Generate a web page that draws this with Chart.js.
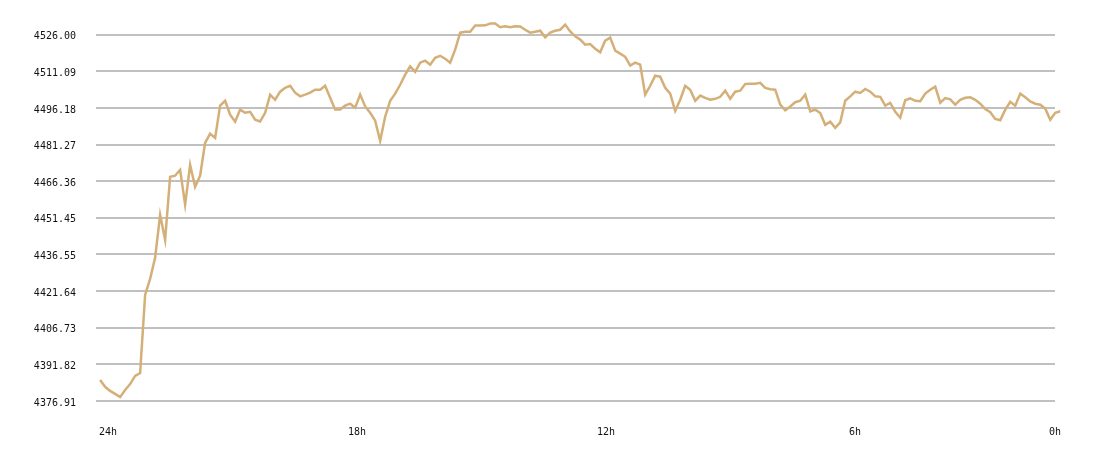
<!DOCTYPE html>
<html>
<head>
<meta charset="utf-8">
<script src="https://cdn.jsdelivr.net/npm/chart.js@4"></script>
<style>
  html, body { margin: 0; padding: 0; background: #fff; }
  #wrap { width: 1100px; height: 458px; }
</style>
</head>
<body>
<div id="wrap"><canvas id="priceChart"></canvas></div>
<script>
// price samples, oldest first, one every ~7.2 minutes
var startHoursAgo = 24.19;
var stepHours = 0.1205;
var prices = [
  4385.5, 4382.7, 4381.0, 4379.8, 4378.5, 4381.4, 4383.8, 4387.1, 4388.3, 4420.1,
  4426.6, 4435.2, 4452.7, 4442.5, 4468.2, 4468.6, 4471.0, 4456.8, 4473.0, 4464.1,
  4468.6, 4482.0, 4485.7, 4484.0, 4497.1, 4499.1, 4493.4, 4490.6, 4495.5, 4494.2,
  4494.6, 4491.4, 4490.7, 4494.2, 4501.6, 4499.5, 4502.8, 4504.4, 4505.2, 4502.4,
  4500.9, 4501.6, 4502.4, 4503.6, 4503.6, 4505.2, 4500.3, 4495.5, 4495.5, 4497.1,
  4497.9, 4496.3, 4501.6, 4496.8, 4494.2, 4491.0, 4482.8, 4492.6, 4499.1, 4502.0,
  4505.6, 4509.7, 4513.1, 4510.9, 4514.6, 4515.4, 4513.8, 4516.6, 4517.4, 4516.2,
  4514.6, 4519.9, 4526.8, 4527.2, 4527.2, 4529.7, 4529.7, 4529.8, 4530.5, 4530.5,
  4529.0, 4529.4, 4529.0, 4529.4, 4529.3, 4528.0, 4526.8, 4527.2, 4527.6, 4524.9,
  4526.8, 4527.6, 4528.0, 4530.1, 4527.3, 4525.3, 4524.0, 4521.9, 4522.2, 4520.3,
  4518.8, 4523.6, 4524.8, 4519.5, 4518.3, 4517.0, 4513.4, 4514.6, 4513.8, 4501.6,
  4505.2, 4509.3, 4508.9, 4504.4, 4502.0, 4495.0, 4499.5, 4505.2, 4503.6, 4499.1,
  4501.2, 4500.3, 4499.5, 4499.9, 4500.7, 4503.2, 4499.9, 4502.8, 4503.2, 4505.9,
  4506.0, 4506.0, 4506.4, 4504.3, 4503.8, 4503.6, 4497.5, 4495.2, 4496.8, 4498.5,
  4499.1, 4501.6, 4494.8, 4495.5, 4494.1, 4489.3, 4490.6, 4488.1, 4490.3, 4499.1,
  4500.9, 4502.8, 4502.3, 4503.9, 4502.8, 4500.9, 4500.7, 4497.1, 4498.2, 4494.6,
  4492.2, 4499.3, 4500.1, 4499.1, 4498.9, 4502.0, 4503.6, 4504.8, 4498.3, 4500.2,
  4499.7, 4497.5, 4499.5, 4500.3, 4500.5, 4499.5, 4497.9, 4495.7, 4494.4, 4491.7,
  4491.2, 4495.5, 4498.7, 4497.1, 4502.0, 4500.5, 4498.8, 4497.9, 4497.5, 4495.9,
  4491.4, 4494.2, 4494.8
];

var yTicks = [4376.91, 4391.82, 4406.73, 4421.64, 4436.55, 4451.45, 4466.36, 4481.27, 4496.18, 4511.09, 4526.00];
var xTickHours = [24, 18, 12, 6];
var xTickLabels = ['24h', '18h', '12h', '6h', '0h'];

var axisMinHours = 1.181;
var axisMaxHours = 24.289;

function buildPoints(){
  var pts = [];
  for (var k = 0; k < prices.length; k++) {
    pts.push({ x: startHoursAgo - k * stepHours, y: prices[k] });
  }
  return pts;
}

var tickFont = { family: 'DejaVu Sans Mono', size: 10 };

var ctx = document.getElementById('priceChart').getContext('2d');
var chart = new Chart(ctx, {
  type: 'line',
  data: {
    datasets: [{
      data: buildPoints(),
      borderColor: '#d4af78',
      borderWidth: 2.5,
      pointRadius: 0,
      tension: 0,
      fill: false,
      clip: false
    }]
  },
  options: {
    responsive: true,
    maintainAspectRatio: false,
    animation: false,
    devicePixelRatio: 1,
    layout: { padding: { left: 34, right: 45, top: 15, bottom: 20 } },
    plugins: { legend: { display: false }, tooltip: { enabled: false } },
    scales: {
      x: {
        type: 'linear',
        reverse: true,
        min: axisMinHours,
        max: axisMaxHours,
        grid: { display: false, drawTicks: false },
        border: { display: false },
        afterBuildTicks: function(scale){
          var t = xTickHours.map(function(h){ return { value: h }; });
          t.push({ value: axisMinHours });
          scale.ticks = t;
        },
        afterFit: function(scale){
          scale.height = 37;
          scale.paddingLeft = 0;
          scale.paddingRight = 0;
        },
        ticks: {
          padding: 25,
          maxRotation: 0,
          autoSkip: false,
          color: '#111',
          font: tickFont,
          callback: function(value, index){ return xTickLabels[index]; }
        }
      },
      y: {
        min: yTicks[0],
        max: 4534,
        grid: { color: '#c0c0c0', lineWidth: 2, drawTicks: false },
        border: { display: false },
        afterBuildTicks: function(scale){
          scale.ticks = yTicks.map(function(v){ return { value: v }; });
        },
        afterFit: function(scale){
          scale.width = 62;
          scale.paddingTop = 0;
          scale.paddingBottom = 0;
        },
        ticks: {
          padding: 20,
          labelOffset: 2,
          color: '#111',
          font: tickFont,
          callback: function(value){ return Number(value).toFixed(2); }
        }
      }
    }
  }
});
</script>
</body>
</html>
